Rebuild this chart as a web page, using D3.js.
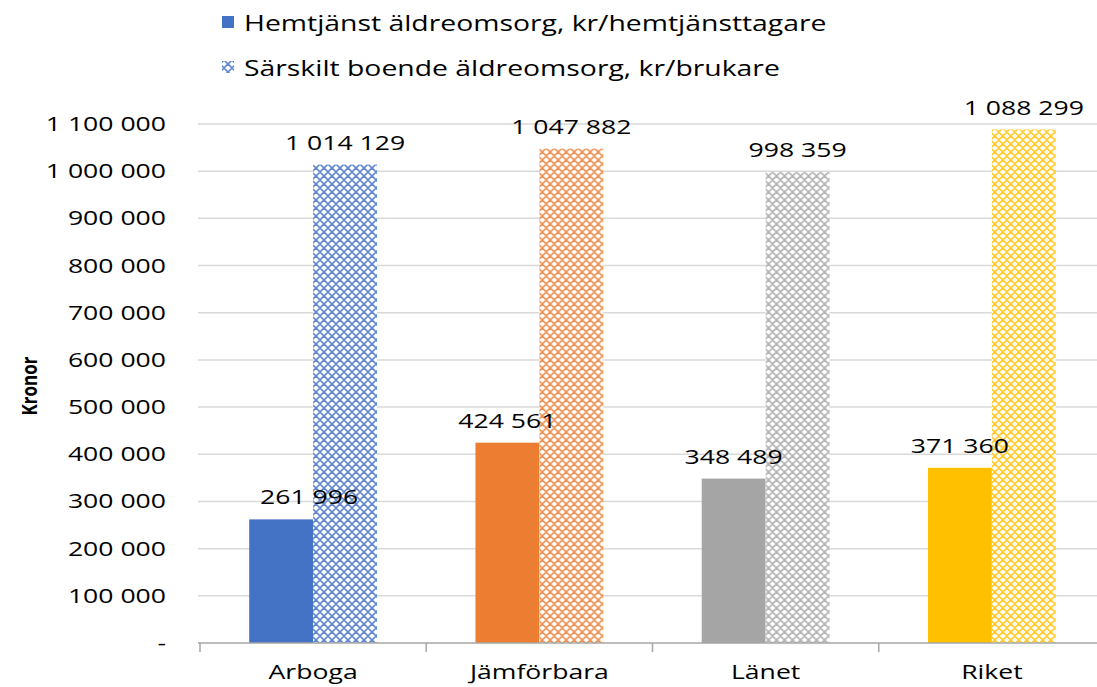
<!DOCTYPE html>
<html>
<head>
<meta charset="utf-8">
<script src="https://cdn.jsdelivr.net/npm/d3@7"></script>
<style>
  body { margin: 0; background: #fff; }
  text { font-family: "Open Sans", sans-serif; fill: #000; }
</style>
</head>
<body>
<div id="chart"></div>
<script>
// data
var categories = ["Arboga", "Jämförbara", "Länet", "Riket"];
var hemtjanst = [261996, 424561, 348489, 371360];
var sarskilt = [1014129, 1047882, 998359, 1088299];
var colors = ["#4472C4", "#ED7D31", "#A5A5A5", "#FFC000"];
var seriesNames = ["Hemtjänst äldreomsorg, kr/hemtjänsttagare", "Särskilt boende äldreomsorg, kr/brukare"];
var yTicks = [0, 100000, 200000, 300000, 400000, 500000, 600000, 700000, 800000, 900000, 1000000, 1100000];

var width = 1097, height = 687;
var sx = 1.33; // text in the picture is stretched sideways

var svg = d3.select("#chart").append("svg")
  .attr("width", width)
  .attr("height", height);

var defs = svg.append("defs");
colors.forEach(function(c, i) {
  var p = defs.append("pattern")
    .attr("id", "pat" + i)
    .attr("patternUnits", "userSpaceOnUse")
    .attr("width", 8).attr("height", 8);
  p.append("rect").attr("width", 8).attr("height", 8).attr("fill", "#fff");
  p.append("path")
    .attr("d", "M0,4 L4,0 L8,4 L4,8 Z")
    .attr("fill", "none")
    .attr("stroke", c)
    .attr("stroke-opacity", 0.85)
    .attr("stroke-width", 1.7);
});

var x0 = d3.scaleBand().domain(categories).range([200, 1105]).padding(0);
var x1 = d3.scaleBand().domain([0, 1]).range([0, x0.bandwidth()])
  .paddingInner(0).paddingOuter(0.77);
var y = d3.scaleLinear().domain([0, 1100000]).range([643, 124]);

var fmt = function(v) {
  return d3.format(",")(v).replace(/,/g, " ");
};

function stretched(sel, k) {
  k = k || sx;
  return sel.attr("transform", function() {
    var t = d3.select(this);
    return "translate(" + t.attr("data-x") + "," + t.attr("data-y") + ") scale(" + k + ",1)";
  });
}

// gridlines
svg.append("g").selectAll("line")
  .data(yTicks.filter(function(d) { return d > 0; }))
  .enter().append("line")
  .attr("x1", 198).attr("x2", width)
  .attr("y1", function(d) { return y(d); })
  .attr("y2", function(d) { return y(d); })
  .attr("stroke", "#d9d9d9")
  .attr("stroke-width", 1.5);

// y tick labels
svg.append("g").selectAll("text")
  .data(yTicks)
  .enter().append("text")
  .attr("data-x", 166)
  .attr("data-y", function(d) { return y(d) + 7; })
  .attr("text-anchor", "end")
  .style("font-size", "20px")
  .text(function(d) { return d === 0 ? "-" : fmt(d); })
  .call(stretched);

// bars
var groups = svg.append("g").selectAll("g")
  .data(categories)
  .enter().append("g")
  .attr("transform", function(d) { return "translate(" + x0(d) + ",0)"; });

groups.append("rect")
  .attr("x", x1(0))
  .attr("width", x1.bandwidth())
  .attr("y", function(d, i) { return y(hemtjanst[i]); })
  .attr("height", function(d, i) { return y(0) - y(hemtjanst[i]); })
  .attr("fill", function(d, i) { return colors[i]; });

groups.append("rect")
  .attr("x", x1(1))
  .attr("width", x1.bandwidth())
  .attr("y", function(d, i) { return y(sarskilt[i]); })
  .attr("height", function(d, i) { return y(0) - y(sarskilt[i]); })
  .attr("fill", function(d, i) { return "url(#pat" + i + ")"; });

// value labels
groups.append("text")
  .attr("data-x", function(d, i) { return x1(0) + x1.bandwidth() / 2 + (i === 0 ? 28 : 0); })
  .attr("data-y", function(d, i) { return y(hemtjanst[i]) - 15; })
  .attr("text-anchor", "middle")
  .style("font-size", "20px")
  .text(function(d, i) { return fmt(hemtjanst[i]); })
  .call(stretched);

groups.append("text")
  .attr("data-x", function(d, i) { return x1(1) + x1.bandwidth() / 2; })
  .attr("data-y", function(d, i) { return y(sarskilt[i]) - 15; })
  .attr("text-anchor", "middle")
  .style("font-size", "20px")
  .text(function(d, i) { return fmt(sarskilt[i]); })
  .call(stretched);

// x axis
var xAxis = svg.append("g").attr("transform", "translate(0," + y(0) + ")");
xAxis.append("line")
  .attr("x1", 198).attr("x2", width)
  .attr("stroke", "#a6a6a6").attr("stroke-width", 1.5);
xAxis.selectAll("line.tick")
  .data(categories.concat(["end"]))
  .enter().append("line")
  .attr("class", "tick")
  .attr("x1", function(d, i) { return 200 + i * x0.step(); })
  .attr("x2", function(d, i) { return 200 + i * x0.step(); })
  .attr("y1", 0).attr("y2", 9)
  .attr("stroke", "#a6a6a6").attr("stroke-width", 1.5);

svg.append("g").selectAll("text")
  .data(categories)
  .enter().append("text")
  .attr("data-x", function(d) { return x0(d) + x0.bandwidth() / 2; })
  .attr("data-y", 679)
  .attr("text-anchor", "middle")
  .style("font-size", "20px")
  .text(function(d) { return d; })
  .call(stretched);

// y axis title
svg.append("text")
  .attr("transform", "translate(37,386) rotate(-90) scale(1,1.25)")
  .attr("text-anchor", "middle")
  .style("font-size", "17px")
  .style("font-weight", "bold")
  .text("Kronor");

// legend
var legend = svg.append("g");
legend.append("rect")
  .attr("x", 222).attr("y", 16).attr("width", 12).attr("height", 12)
  .attr("fill", colors[0]);
legend.append("rect")
  .attr("x", 222).attr("y", 61).attr("width", 12).attr("height", 12)
  .attr("fill", "url(#pat0)");
legend.selectAll("text")
  .data(seriesNames)
  .enter().append("text")
  .attr("data-x", 244)
  .attr("data-y", function(d, i) { return 31 + i * 45; })
  .style("font-size", "21px")
  .text(function(d) { return d; })
  .call(function(s) { stretched(s, 1.35); });
</script>
</body>
</html>
